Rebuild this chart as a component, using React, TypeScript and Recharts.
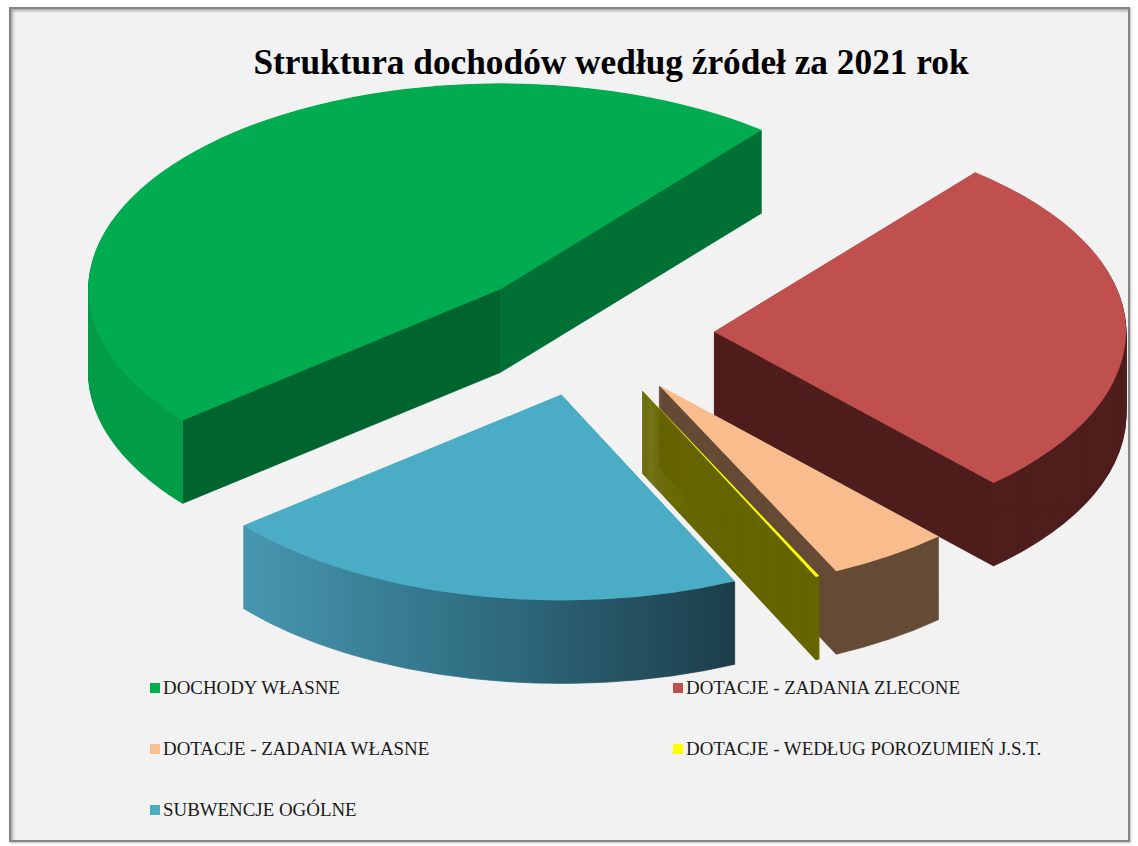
import { PieChart, Pie, Cell } from "recharts";

// Struktura dochodów 2021 (shares in %)
const categories = [
  "DOCHODY WŁASNE",
  "DOTACJE - ZADANIA ZLECONE",
  "DOTACJE - ZADANIA WŁASNE",
  "DOTACJE - WEDŁUG POROZUMIEŃ J.S.T.",
  "SUBWENCJE OGÓLNE",
];
const shares = [46.9, 27.2, 4.8, 0.15, 20.95];

const topColors = ["#00AC4F", "#C0504D", "#F8BC8D", "#FFFF00", "#4BACC6"];
const sideColors = ["url(#greenSide)", "#4F1F1E", "#664C37", "#666600", "url(#blueSide)"];
const legendColors = ["#00B050", "#C0504D", "#FABF8F", "#FFFF00", "#4BACC6"];

const data = categories.map((name, i) => ({ name, value: shares[i] }));

// geometry (in the un-flattened svg, squashed by FLAT afterwards)
const W = 1138;
const FLAT = 0.5;
const CX = 589;
const CY = 667;
const R = 412;
const EXPLODE = 125;
const DEPTH = 166;
const STEP = 2;
const START = 219.5;

const total = shares.reduce((a, b) => a + b, 0);
const offsets = shares.map((v, i) => {
  const before = shares.slice(0, i).reduce((a, b) => a + b, 0);
  const mid = ((START - (360 * (before + v / 2)) / total) * Math.PI) / 180;
  return { dx: EXPLODE * Math.cos(mid), dy: -EXPLODE * Math.sin(mid) };
});

const greenApex = CX + offsets[0].dx;
const greenEdge = greenApex + R * Math.cos((START * Math.PI) / 180);

const depths: number[] = [];
for (let d = DEPTH; d > 0; d -= STEP) depths.push(d);

const App = () => {
  const layers: JSX.Element[] = [];
  shares.forEach((_, i) => {
    [...depths, 0].forEach((d) => {
      const isTop = d === 0;
      const color = isTop ? topColors[i] : sideColors[i];
      layers.push(
        <Pie
          key={`p-${i}-${d}`}
          data={data}
          dataKey="value"
          nameKey="name"
          cx={CX + offsets[i].dx}
          cy={CY + offsets[i].dy + d}
          outerRadius={R}
          startAngle={START}
          endAngle={START - 360}
          stroke="none"
          isAnimationActive={false}
        >
          {data.map((_, j) => (
            <Cell
              key={j}
              fill={j === i ? color : "none"}
              stroke={j === i && !isTop ? color : "none"}
              strokeWidth={1}
            />
          ))}
        </Pie>
      );
    });
  });

  return (
    <div style={{ position: "absolute", left: 0, top: 0, width: W, height: 846, background: "#fff", overflow: "hidden" }}>
      <div
        style={{
          position: "absolute",
          left: 9,
          top: 7,
          width: 1117,
          height: 831,
          background: "#F2F2F2",
          border: "2px solid #858585",
          boxShadow: "inset 2px 2px 3px #a8a8a8, 1px 1px 2px #bbb",
        }}
      />
      <div
        style={{
          position: "absolute",
          left: 0,
          top: 0,
          width: W,
          height: 1692,
          transform: `scaleY(${FLAT})`,
          transformOrigin: "0 0",
        }}
      >
        <PieChart width={W} height={1692} margin={{ top: 0, right: 0, bottom: 0, left: 0 }}>
          <defs>
            <linearGradient id="greenSide" gradientUnits="userSpaceOnUse" x1={0} y1={0} x2={W} y2={0}>
              <stop offset={0} stopColor="#009C46" />
              <stop offset={greenEdge / W} stopColor="#009C46" />
              <stop offset={greenEdge / W} stopColor="#00642F" />
              <stop offset={greenApex / W} stopColor="#00642F" />
              <stop offset={greenApex / W} stopColor="#007035" />
              <stop offset={1} stopColor="#007035" />
            </linearGradient>
            <linearGradient id="blueSide" gradientUnits="userSpaceOnUse" x1={248} y1={0} x2={740} y2={0}>
              <stop offset={0} stopColor="#4796AF" />
              <stop offset={0.5} stopColor="#2F6C80" />
              <stop offset={1} stopColor="#1C3C48" />
            </linearGradient>
          </defs>
          {layers}
        </PieChart>
      </div>
      <div
        style={{
          position: "absolute",
          left: 0,
          top: 40,
          width: 1222,
          textAlign: "center",
          fontFamily: "'Liberation Serif', 'Times New Roman', serif",
          fontWeight: "bold",
          fontSize: 35.3,
          lineHeight: "46px",
          color: "#000",
        }}
      >
        Struktura dochodów według źródeł za 2021 rok
      </div>
      {categories.map((name, i) => (
        <div
          key={name}
          style={{
            position: "absolute",
            left: i % 2 === 0 ? 150 : 673,
            top: 677 + Math.floor(i / 2) * 61,
            display: "flex",
            alignItems: "center",
            fontFamily: "'Liberation Serif', 'Times New Roman', serif",
            fontSize: 18.9,
            lineHeight: "22px",
            color: "#1a1a1a",
            whiteSpace: "nowrap",
          }}
        >
          <span style={{ display: "inline-block", width: 10, height: 10, background: legendColors[i], marginRight: 3 }} />
          {name}
        </div>
      ))}
    </div>
  );
};

export default App;
